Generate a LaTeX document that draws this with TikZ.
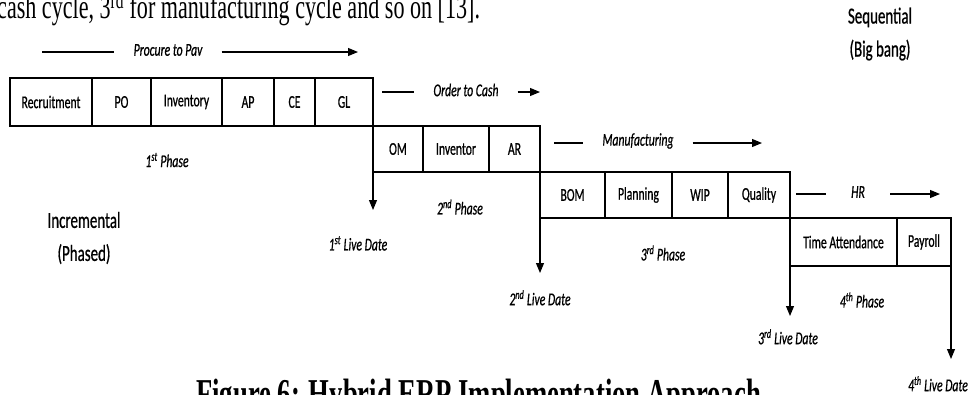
\documentclass[tikz,border=0pt]{standalone}
\usepackage{fontspec}
\setmainfont[FakeStretch=0.65, FakeBold=0.7]{Carlito}
\newfontfamily\paperfont[FakeStretch=0.65]{Liberation Serif}
\usetikzlibrary{arrows.meta, positioning}

\begin{document}
\begin{tikzpicture}[
x=1pt, y=-1pt,
box/.style={draw, rectangle, line width=1.1pt, outer sep=0pt, inner sep=0pt, font=\fontsize{18}{20}\selectfont},
lbl/.style={font=\itshape\fontsize{18}{20}\selectfont, inner sep=0pt},
flow/.style={font=\itshape\fontsize{18}{20}\selectfont, inner xsep=19pt, inner ysep=0pt},
mode/.style={align=center, font=\fontsize{23}{33}\selectfont},
flowline/.style={line width=1.1pt},
arrow/.style={-{Triangle[length=10pt, width=8pt]}, line width=1.1pt}
]
\useasboundingbox (0,0) rectangle (970,394);

% text of the page around the figure
\node[anchor=base west, inner sep=0pt, font=\paperfont\fontsize{34}{34}\selectfont] (pagetext) at (-3,18)
{cash cycle, 3\textsuperscript{rd} for manufacturing cycle and so on [13].};
\node[anchor=base west, inner sep=0pt, font=\paperfont\bfseries\fontsize{41}{41}\selectfont] (caption) at (196,407)
{Figure 6: Hybrid ERP Implementation Approach};

% 1st phase
\node[box, minimum width=82pt, minimum height=48pt, anchor=north west] (recruit) at (10,78) {Recruitment};
\node[box, minimum width=59pt, minimum height=48pt, right=0pt of recruit] (po) {PO};
\node[box, minimum width=71pt, minimum height=48pt, right=0pt of po] (inv) {Inventory};
\node[box, minimum width=52pt, minimum height=48pt, right=0pt of inv] (ap) {AP};
\node[box, minimum width=41pt, minimum height=48pt, right=0pt of ap] (ce) {CE};
\node[box, minimum width=58pt, minimum height=48pt, right=0pt of ce] (gl) {GL};

% 2nd phase
\node[box, minimum width=50pt, minimum height=46pt, anchor=north west] (om) at (gl.south east) {OM};
\node[box, minimum width=66pt, minimum height=46pt, right=0pt of om] (inventor) {Inventor};
\node[box, minimum width=51pt, minimum height=46pt, right=0pt of inventor] (ar) {AR};

% 3rd phase
\node[box, minimum width=65pt, minimum height=46pt, anchor=north west] (bom) at (ar.south east) {BOM};
\node[box, minimum width=67pt, minimum height=46pt, right=0pt of bom] (plan) {Planning};
\node[box, minimum width=56pt, minimum height=46pt, right=0pt of plan] (wip) {WIP};
\node[box, minimum width=62pt, minimum height=46pt, right=0pt of wip] (quality) {Quality};

% 4th phase
\node[box, minimum width=107pt, minimum height=48pt, anchor=north west] (time) at (quality.south east) {Time Attendance};
\node[box, minimum width=54pt, minimum height=48pt, right=0pt of time] (payroll) {Payroll};

% cycles
\node[flow] (p2p) at (168,50) {Procure to Pav};
\node[flow] (o2c) at (466,90) {Order to Cash};
\node[flow] (manu) at (638,141) {Manufacturing};
\node[flow, inner xsep=25pt] (hr) at (858,192) {HR};
\coordinate (p2pS) at (42,52);
\coordinate (p2pE) at (358,52);
\coordinate (o2cS) at (382,92);
\coordinate (o2cE) at (540,92);
\coordinate (manuS) at (554,143);
\coordinate (manuE) at (762,143);
\coordinate (hrS) at (796,194);
\coordinate (hrE) at (940,194);
\draw[flowline] (p2pS) -- (p2pS -| p2p.west);
\draw[arrow] (p2pS -| p2p.east) -- (p2pE);
\draw[flowline] (o2cS) -- (o2cS -| o2c.west);
\draw[arrow] (o2cS -| o2c.east) -- (o2cE);
\draw[flowline] (manuS) -- (manuS -| manu.west);
\draw[arrow] (manuS -| manu.east) -- (manuE);
\draw[flowline] (hrS) -- (hrS -| hr.west);
\draw[arrow] (hrS -| hr.east) -- (hrE);

% phases
\node[lbl] (ph1) at (167,160) {1\textsuperscript{st} Phase};
\node[lbl] (ph2) at (460,207) {2\textsuperscript{nd} Phase};
\node[lbl] (ph3) at (663,253) {3\textsuperscript{rd} Phase};
\node[lbl] (ph4) at (862,300) {4\textsuperscript{th} Phase};

% live dates
\coordinate (tip1) at ([yshift=-38pt]om.south west);
\coordinate (tip2) at ([yshift=-55pt]bom.south west);
\coordinate (tip3) at ([yshift=-50pt]time.south west);
\coordinate (tip4) at ([yshift=-93pt]payroll.south east);
\draw[arrow] (om.south west) -- (tip1);
\draw[arrow] (bom.south west) -- (tip2);
\draw[arrow] (time.south west) -- (tip3);
\draw[arrow] (payroll.south east) -- (tip4);
\node[lbl, below=26pt of tip1, xshift=-15pt] (live1) {1\textsuperscript{st} Live Date};
\node[lbl, below=17pt of tip2] (live2) {2\textsuperscript{nd} Live Date};
\node[lbl, below=13pt of tip3, xshift=-2pt] (live3) {3\textsuperscript{rd} Live Date};
\node[lbl, below=17pt of tip4, xshift=-13pt] (live4) {4\textsuperscript{th} Live Date};

% approaches
\node[mode] (incr) at (84,238) {Incremental\\(Phased)};
\node[mode] (seq) at (880,34) {Sequential\\(Big bang)};

\end{tikzpicture}
\end{document}
